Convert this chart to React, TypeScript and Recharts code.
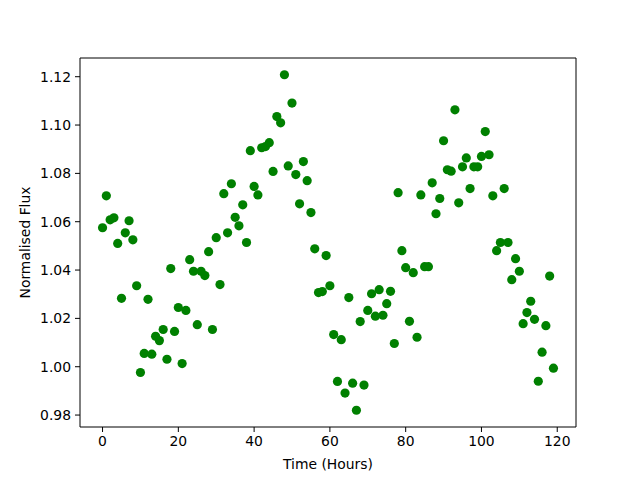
import { ScatterChart, Scatter, XAxis, YAxis, Label, ReferenceLine } from "recharts";

// time axis (hours) and normalised flux
const hours = [
  0, 1, 2, 3, 4, 5, 6, 7, 8, 9, 10, 11, 12, 13, 14, 15, 16, 17, 18, 19,
  20, 21, 22, 23, 24, 25, 26, 27, 28, 29, 30, 31, 32, 33, 34, 35, 36, 37, 38, 39,
  40, 41, 42, 43, 44, 45, 46, 47, 48, 49, 50, 51, 52, 53, 54, 55, 56, 57, 58, 59,
  60, 61, 62, 63, 64, 65, 66, 67, 68, 69, 70, 71, 72, 73, 74, 75, 76, 77, 78, 79,
  80, 81, 82, 83, 84, 85, 86, 87, 88, 89, 90, 91, 92, 93, 94, 95, 96, 97, 98, 99,
  100, 101, 102, 103, 104, 105, 106, 107, 108, 109, 110, 111, 112, 113, 114, 115, 116, 117, 118, 119,
];

const flux = [
  1.0575, 1.0707, 1.0608, 1.0616, 1.051, 1.0283, 1.0554, 1.0604, 1.0525, 1.0335,
  0.9976, 1.0055, 1.0279, 1.0052, 1.0126, 1.0108, 1.0154, 1.0031, 1.0406, 1.0146,
  1.0245, 1.0013, 1.0233, 1.0443, 1.0395, 1.0174, 1.0395, 1.0377, 1.0476, 1.0154,
  1.0534, 1.034, 1.0716, 1.0554, 1.0757, 1.0618, 1.0583, 1.067, 1.0514, 1.0894,
  1.0746, 1.0711, 1.0906, 1.0911, 1.0927, 1.0808, 1.1035, 1.1009, 1.1208, 1.0831,
  1.1091, 1.0795, 1.0674, 1.0849, 1.077, 1.0638, 1.0488, 1.0307, 1.0311, 1.046,
  1.0335, 1.0133, 0.9939, 1.0112, 0.9891, 1.0286, 0.9932, 0.982, 1.0187, 0.9924,
  1.0233, 1.0302, 1.0209, 1.0319, 1.0213, 1.0261, 1.0312, 1.0096, 1.072, 1.048,
  1.041, 1.0188, 1.0389, 1.0122, 1.0711, 1.0414, 1.0414, 1.0761, 1.0633, 1.0696,
  1.0935, 1.0815, 1.0809, 1.1063, 1.0678, 1.0827, 1.0864, 1.0737, 1.0827, 1.0827,
  1.087, 1.0973, 1.0877, 1.0707, 1.048, 1.0514, 1.0737, 1.0514, 1.036, 1.0447,
  1.0395, 1.0178, 1.0224, 1.0271, 1.0196, 0.994, 1.006, 1.017, 1.0375, 0.9994,
];

const xTicks = [0, 20, 40, 60, 80, 100, 120];
const yTicks = [0.98, 1.0, 1.02, 1.04, 1.06, 1.08, 1.1, 1.12];

const xDomain = [-5.95, 124.95];
const yDomain = [0.97506, 1.12774];

const data = hours.map((h, i) => ({ time: h, flux: flux[i] }));

const font = "'DejaVu Sans', sans-serif";
const tickStyle = { fontSize: 13.9, fill: "#000", fontFamily: font };

// matplotlib-ish round marker
const Dot = (props: any) => {
  const { cx, cy } = props;
  return <circle cx={cx} cy={cy} r={4.6} fill="#008000" />;
};

const App = () => {
  return (
    <div style={{ position: "absolute", left: 0, top: 0 }}>
      <ScatterChart
        width={640}
        height={480}
        margin={{ top: 58, right: 64, bottom: 0, left: 0 }}
        style={{ background: "#fff" }}
      >
        <XAxis
          dataKey="time"
          type="number"
          domain={xDomain}
          ticks={xTicks}
          height={53}
          tickSize={5}
          tickMargin={4}
          tick={tickStyle}
          stroke="#000"
          allowDataOverflow
        >
          <Label
            value="Time (Hours)"
            position="insideBottom"
            offset={11}
            style={{ fontSize: 13.9, fill: "#000", fontFamily: font }}
          />
        </XAxis>
        <YAxis
          dataKey="flux"
          type="number"
          domain={yDomain}
          ticks={yTicks}
          width={80}
          tickSize={5}
          tickMargin={4}
          tick={tickStyle}
          tickFormatter={(v: number) => v.toFixed(2)}
          stroke="#000"
          allowDataOverflow
        >
          <Label
            value="Normalised Flux"
            angle={-90}
            position="insideLeft"
            offset={25}
            style={{ fontSize: 13.9, fill: "#000", fontFamily: font, textAnchor: "middle" }}
          />
        </YAxis>
        {/* close the frame on top and right */}
        <ReferenceLine y={yDomain[1]} stroke="#000" ifOverflow="visible" />
        <ReferenceLine x={xDomain[1]} stroke="#000" ifOverflow="visible" />
        <Scatter
          data={data}
          shape={<Dot />}
          isAnimationActive={false}
        />
      </ScatterChart>
    </div>
  );
};

export default App;
